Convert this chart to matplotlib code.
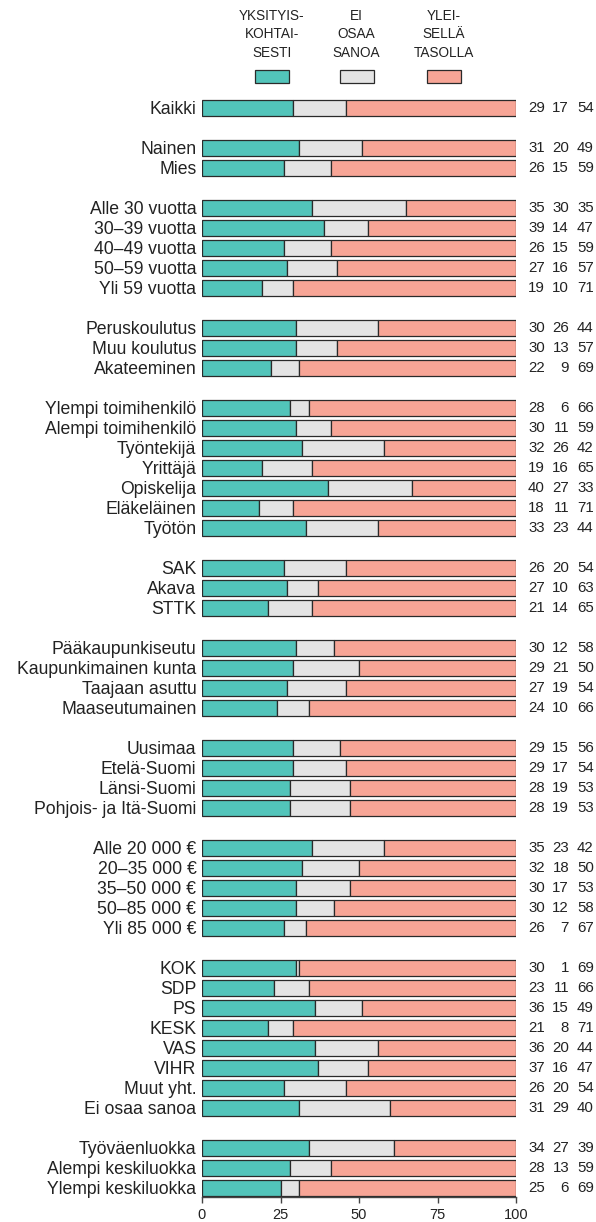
import matplotlib
matplotlib.use('Agg')
import matplotlib.pyplot as plt
from matplotlib.patches import Rectangle

# ryhmät ja osuudet (%)
labels = ['Kaikki',
          'Nainen', 'Mies',
          'Alle 30 vuotta', '30–39 vuotta', '40–49 vuotta', '50–59 vuotta', 'Yli 59 vuotta',
          'Peruskoulutus', 'Muu koulutus', 'Akateeminen',
          'Ylempi toimihenkilö', 'Alempi toimihenkilö', 'Työntekijä', 'Yrittäjä',
          'Opiskelija', 'Eläkeläinen', 'Työtön',
          'SAK', 'Akava', 'STTK',
          'Pääkaupunkiseutu', 'Kaupunkimainen kunta', 'Taajaan asuttu', 'Maaseutumainen',
          'Uusimaa', 'Etelä-Suomi', 'Länsi-Suomi', 'Pohjois- ja Itä-Suomi',
          'Alle 20 000 €', '20–35 000 €', '35–50 000 €', '50–85 000 €', 'Yli 85 000 €',
          'KOK', 'SDP', 'PS', 'KESK', 'VAS', 'VIHR', 'Muut yht.', 'Ei osaa sanoa',
          'Työväenluokka', 'Alempi keskiluokka', 'Ylempi keskiluokka']
group_sizes = [1, 2, 5, 3, 7, 3, 4, 4, 5, 8, 3]

yksityis = [29, 31, 26, 35, 39, 26, 27, 19, 30, 30, 22, 28, 30, 32, 19, 40, 18, 33,
            26, 27, 21, 30, 29, 27, 24, 29, 29, 28, 28, 35, 32, 30, 30, 26,
            30, 23, 36, 21, 36, 37, 26, 31, 34, 28, 25]
eos = [17, 20, 15, 30, 14, 15, 16, 10, 26, 13, 9, 6, 11, 26, 16, 27, 11, 23,
       20, 10, 14, 12, 21, 19, 10, 15, 17, 19, 19, 23, 18, 17, 12, 7,
       1, 11, 15, 8, 20, 16, 20, 29, 27, 13, 6]
yleisella = [54, 49, 59, 35, 47, 59, 57, 71, 44, 57, 69, 66, 59, 42, 65, 33, 71, 44,
             54, 63, 65, 58, 50, 54, 66, 56, 54, 53, 53, 42, 50, 53, 58, 67,
             69, 66, 49, 71, 44, 47, 54, 40, 39, 59, 69]

legend_labels = ['YKSITYIS-\nKOHTAI-\nSESTI', 'EI\nOSAA\nSANOA', 'YLEI-\nSELLÄ\nTASOLLA']
colors = ['#52c4ba', '#e4e4e4', '#f7a596']
edge = '#2a2a2a'

narrow = ['Liberation Sans Narrow', 'Liberation Sans']
plt.rcParams['font.family'] = ['Liberation Sans', 'DejaVu Sans']

# rivien paikat: tyhjä rivi ryhmien välissä
ypos = []
pos = 0
for g in group_sizes:
    for i in range(g):
        ypos.append(pos)
        pos += 1
    pos += 1

W, H = 596, 1222
fig = plt.figure(figsize=(W / 100, H / 100), dpi=100)
top_px, bot_px = 98, 1197
ax = fig.add_axes([202 / W, 1 - bot_px / H, (516 - 202) / W, (bot_px - top_px) / H])

left = [0] * len(labels)
for vals, c in zip([yksityis, eos, yleisella], colors):
    ax.barh(ypos, vals, left=left, height=0.8, color=c, edgecolor=edge, linewidth=0.9)
    left = [l + v for l, v in zip(left, vals)]

# numerot oikealla
for y, a, b, c in zip(ypos, yksityis, eos, yleisella):
    for xv, v in zip([109.2, 116.9, 124.8], [a, b, c]):
        ax.text(xv, y, str(v), ha='right', va='center', fontsize=10.8,
                family=narrow, color='#222222', clip_on=False)

ax.set_xlim(0, 100)
ax.set_ylim(ypos[-1] + 0.45, -0.5)
ax.set_yticks(ypos)
ax.set_yticklabels(labels, fontsize=12.7, color='#222222')
ax.tick_params(axis='y', length=0, pad=4)
ax.set_xticks([0, 25, 50, 75, 100])
ax.tick_params(axis='x', length=4, width=1, color='#444444', labelsize=10.5,
               labelcolor='#222222', pad=4)
for s in ['top', 'right', 'left']:
    ax.spines[s].set_visible(False)
ax.spines['bottom'].set_color('#444444')
ax.spines['bottom'].set_linewidth(1)

# selite
for cx, lab, c in zip([272, 356.5, 443.5], legend_labels, colors):
    fig.text(cx / W, 1 - 34.5 / H, lab, ha='center', va='center', fontsize=9.8,
             family=narrow, color='#222222', linespacing=1.4, multialignment='center')
    fig.add_artist(Rectangle(((cx - 17) / W, 1 - 83 / H), 34 / W, 13 / H,
                             transform=fig.transFigure, facecolor=c,
                             edgecolor=edge, linewidth=0.9))

fig.savefig('out.png', dpi=100)
